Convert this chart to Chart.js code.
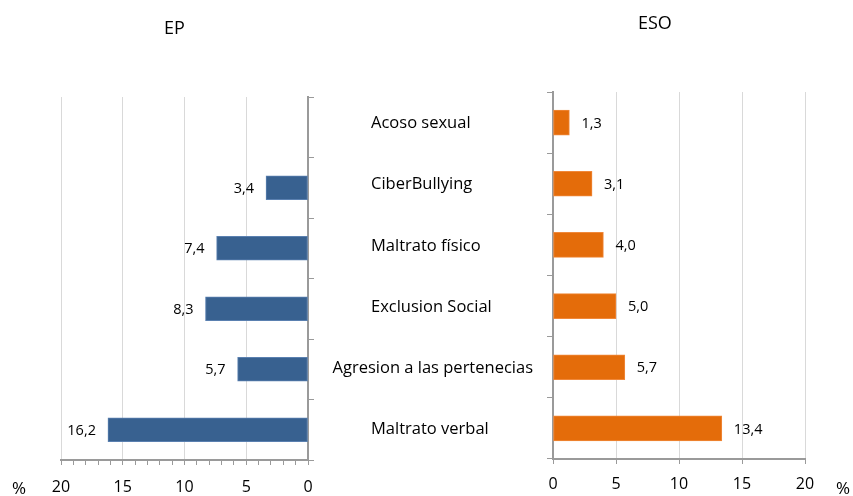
<!DOCTYPE html>
<html>
<head>
<meta charset="utf-8">
<script src="https://cdn.jsdelivr.net/npm/chart.js@4"></script>
<style>
  body { margin: 0; background: #fff; }
  #wrap { position: relative; width: 853px; height: 496px; font-family: 'Open Sans', sans-serif; color: #000; }
  .txt { position: absolute; white-space: nowrap; }
  #epBox { position: absolute; left: 0; top: 0; width: 330px; height: 496px; }
  #esoBox { position: absolute; left: 320px; top: 0; width: 533px; height: 496px; }
</style>
</head>
<body>
<div id="wrap">
  <div id="epBox"><canvas id="epChart"></canvas></div>
  <div id="esoBox"><canvas id="esoChart"></canvas></div>
  <div class="txt" style="left:164px; top:15px; font-size:18px;">EP</div>
  <div class="txt" style="left:638px; top:10px; font-size:18px;">ESO</div>
  <div class="txt" style="left:12px; top:476px; font-size:17px;">%</div>
  <div class="txt" style="left:836px; top:476px; font-size:17px;">%</div>
</div>
<script>
// categories, top to bottom
const categories = ['Acoso sexual', 'CiberBullying', 'Maltrato físico', 'Exclusion Social',
                    'Agresion a las pertenecias', 'Maltrato verbal'];
const epValues = [null, 3.4, 7.4, 8.3, 5.7, 16.2];
const esoValues = [1.3, 3.1, 4.0, 5.0, 5.7, 13.4];
const axisMax = 20;

const FONT = 'Open Sans';
const AXIS_GRAY = '#9a9a9a';
const GRID_GRAY = '#d9d9d9';

// draws "3,4" style value labels next to the bar ends
const valueLabels = {
    id: 'valueLabels',
    afterDatasetsDraw(chart, args, opts) {
        const ctx = chart.ctx;
        const meta = chart.getDatasetMeta(0);
        const data = chart.data.datasets[0].data;
        ctx.save();
        ctx.font = '14.5px ' + FONT;
        ctx.fillStyle = '#000';
        ctx.textBaseline = 'middle';
        ctx.textAlign = opts.side === 'left' ? 'right' : 'left';
        meta.data.forEach((bar, i) => {
            if (data[i] == null) return;
            const txt = data[i].toFixed(1).replace('.', ',');
            const x = opts.side === 'left' ? bar.x - 12 : bar.x + 12;
            ctx.fillText(txt, x, bar.y + 1);
        });
        ctx.restore();
    }
};

// category names: left aligned in the gap, pushed left only when too long
const categoryLabels = {
    id: 'categoryLabels',
    afterDraw(chart) {
        const ctx = chart.ctx;
        const y = chart.scales.y;
        ctx.save();
        ctx.font = '16.5px ' + FONT;
        ctx.fillStyle = '#000';
        ctx.textBaseline = 'middle';
        ctx.textAlign = 'left';
        chart.data.labels.forEach((lab, i) => {
            const w = ctx.measureText(lab).width;
            const x = Math.min(51, y.right - 20 - w);
            ctx.fillText(lab, x, y.getPixelForTick(i) + 1);
        });
        ctx.restore();
    }
};

// EP chart (left, reversed axis)
new Chart(document.getElementById('epChart'), {
    type: 'bar',
    data: {
        labels: categories,
        datasets: [{
            data: epValues,
            backgroundColor: '#386190',
            borderColor: '#5a80b0',
            borderWidth: 1,
            borderSkipped: false,
            barThickness: 24
        }]
    },
    options: {
        indexAxis: 'y',
        responsive: true,
        maintainAspectRatio: false,
        animation: false,
        layout: { padding: { left: 61, top: 97, right: 0, bottom: 0 } },
        plugins: {
            legend: { display: false },
            tooltip: { enabled: false },
            valueLabels: { side: 'left' }
        },
        scales: {
            x: {
                reverse: true,
                min: 0,
                max: axisMax,
                afterFit: s => { s.height = 36; },
                border: { color: AXIS_GRAY, width: 2 },
                grid: {
                    color: c => (c.tick && c.tick.value % 5 === 0) ? GRID_GRAY : 'rgba(0,0,0,0)',
                    tickColor: AXIS_GRAY,
                    tickLength: 5
                },
                ticks: {
                    stepSize: 1,
                    autoSkip: false,
                    maxRotation: 0,
                    padding: 13,
                    color: '#000',
                    font: { family: FONT, size: 16 },
                    callback: v => v % 5 === 0 ? v : ''
                }
            },
            y: {
                position: 'right',
                afterFit: s => { s.width = 22; },
                border: { color: AXIS_GRAY, width: 2 },
                grid: { drawOnChartArea: false, tickColor: AXIS_GRAY, tickLength: 6 },
                ticks: { display: false }
            }
        }
    },
    plugins: [valueLabels]
});

// ESO chart (right)
new Chart(document.getElementById('esoChart'), {
    type: 'bar',
    data: {
        labels: categories,
        datasets: [{
            data: esoValues,
            backgroundColor: '#e46c0a',
            borderColor: '#f0883a',
            borderWidth: 1,
            borderSkipped: false,
            barThickness: 25
        }]
    },
    options: {
        indexAxis: 'y',
        responsive: true,
        maintainAspectRatio: false,
        animation: false,
        layout: { padding: { left: 0, top: 92, right: 48, bottom: 0 } },
        plugins: {
            legend: { display: false },
            tooltip: { enabled: false },
            valueLabels: { side: 'right' }
        },
        scales: {
            x: {
                min: 0,
                max: axisMax,
                afterFit: s => { s.height = 37; },
                border: { color: AXIS_GRAY, width: 2 },
                grid: { color: GRID_GRAY, tickColor: AXIS_GRAY, tickLength: 5 },
                ticks: {
                    stepSize: 5,
                    maxRotation: 0,
                    padding: 11,
                    color: '#000',
                    font: { family: FONT, size: 16 }
                }
            },
            y: {
                afterFit: s => { s.width = 233; },
                border: { color: AXIS_GRAY, width: 2 },
                grid: { drawOnChartArea: false, tickColor: AXIS_GRAY, tickLength: 6 },
                ticks: { display: false }
            }
        }
    },
    plugins: [valueLabels, categoryLabels]
});
</script>
</body>
</html>
